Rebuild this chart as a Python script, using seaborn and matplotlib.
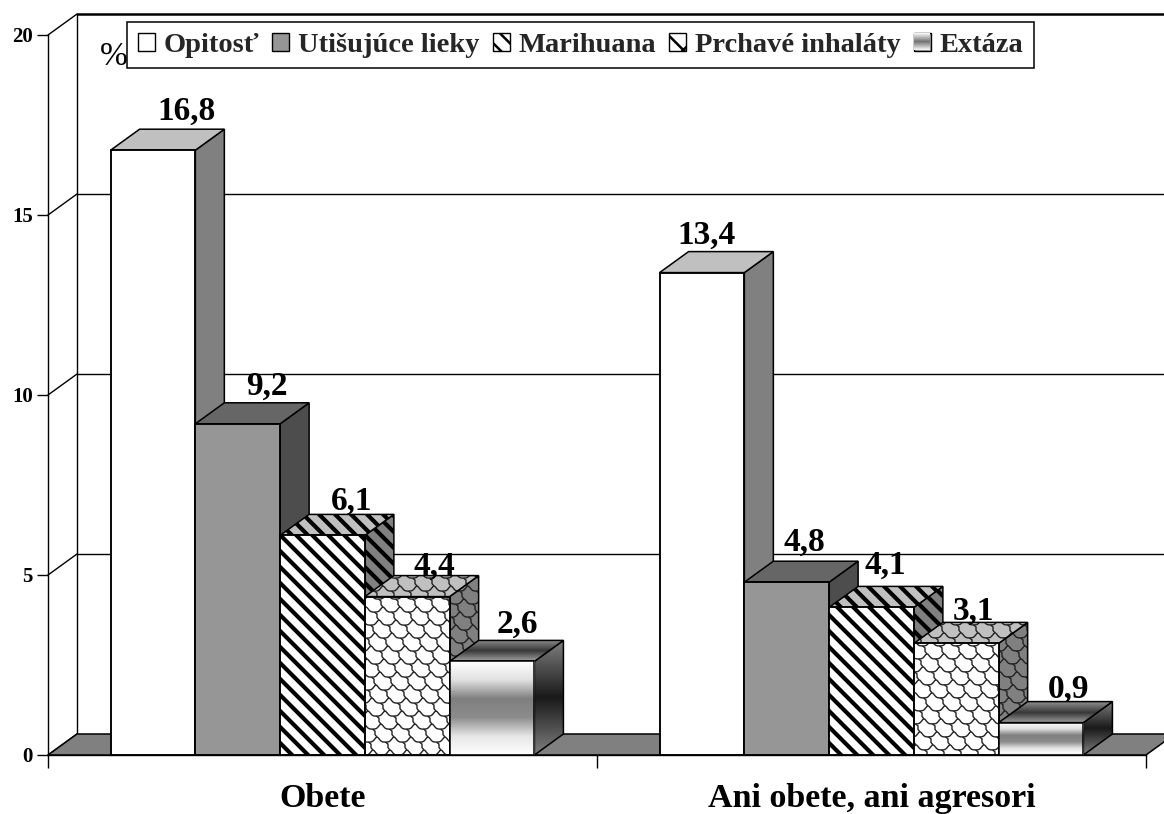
import numpy as np
import pandas as pd
import matplotlib
matplotlib.use("Agg")
import matplotlib.pyplot as plt
import seaborn as sns
from matplotlib.collections import LineCollection
from matplotlib.patches import Patch, Polygon
from matplotlib.transforms import IdentityTransform

# =========================
# DATA
# =========================
groups = ["Obete", "Ani obete, ani agresori"]
substances = ["Opitosť", "Utišujúce lieky", "Marihuana", "Prchavé inhaláty", "Extáza"]
obete = [16.8, 9.2, 6.1, 4.4, 2.6]
ani_obete = [13.4, 4.8, 4.1, 3.1, 0.9]
y_ticks = [0, 5, 10, 15, 20]

# =========================
# STYLE
# =========================
W, H = 1164, 814
DEPTH_X_PX = 29
DEPTH_Y_PX = 21
front_colors = ["#ffffff", "#969696", "#ffffff", "#ffffff", "#ffffff"]
top_colors = ["#c0c0c0", "#666666", "#c0c0c0", "#c0c0c0", "#808080"]
side_colors = ["#808080", "#4d4d4d", "#808080", "#808080", "#808080"]
kinds = ["plain", "plain", "stripes", "scales", "gradient"]
# label placement per bar, pixels
label_shift_px = [[5, 0, 0, -2, -4], [-24, -11, -15, -12, -2]]
label_lift_px = [[9, 8, 5, 1, 8], [8, 10, 13, 3, 4]]

sns.set_style("white")
plt.rcParams["font.family"] = ["Liberation Serif", "DejaVu Serif"]
plt.rcParams["hatch.linewidth"] = 1.8

df = pd.DataFrame({
    "skupina": [groups[0]] * 5 + [groups[1]] * 5,
    "latka": substances * 2,
    "hodnota": obete + ani_obete,
})

fig = plt.figure(figsize=(W / 100, H / 100), dpi=100)
ax = fig.add_axes([48 / W, (H - 755) / H, 1098 / W, 720 / H])

sns.barplot(data=df, x="skupina", y="hodnota", hue="latka", hue_order=substances,
            palette=front_colors, width=0.772, gap=0, edgecolor="black",
            linewidth=1.1, saturation=1, legend=False, ax=ax)
ax.set_xlim(-0.5, 1.5)
ax.set_ylim(0, 20)

dx = DEPTH_X_PX / 549
dy = DEPTH_Y_PX / 36


# =========================
# FACE FILLS
# =========================
def add_stripes(clip, z):
    box = clip.get_window_extent()
    c = np.arange(box.x0 + box.y0 - 20, box.x1 + box.y1 + 20, 16)
    segs = [[(k - box.y0 + 10, box.y0 - 10), (k - box.y1 - 10, box.y1 + 10)] for k in c]
    lines = LineCollection(segs, colors="black", linewidths=3.0,
                           transform=IdentityTransform(), zorder=z)
    ax.add_collection(lines, autolim=False)
    lines.set_clip_path(clip)


def add_scales(clip, z):
    # skewed wavy rows joined by curved tails, each row shifted so the cells run diagonally
    box = clip.get_window_extent()
    segs = []
    xs = np.arange(box.x0 - 40, box.x1 + 40, 1.0)
    for r, y0 in enumerate(np.arange(box.y1 + 13, box.y0 - 13, -13)):
        phase = r * 13
        th = 2 * np.pi * (xs - phase) / 17
        segs.append(np.column_stack([xs, y0 + 2.5 * np.cos(th + 0.7 * np.sin(th))]))
        for k in np.arange(-10, 80):
            tx = phase + 8.5 + 17 * k
            if box.x0 - 20 < tx < box.x1 + 20:
                segs.append([(tx, y0 - 2.5), (tx + 2.5, y0 - 4.5), (tx + 2.5, y0 - 8), (tx + 4.5, y0 - 10.5)])
    lines = LineCollection(segs, colors="#222222", linewidths=1.0,
                           transform=IdentityTransform(), zorder=z)
    ax.add_collection(lines, autolim=False)
    lines.set_clip_path(clip)


def add_gradient(clip, z, stops, verts):
    grad = np.interp(np.linspace(0, 1, 200), np.linspace(0, 1, len(stops)), stops)
    xs, ys = zip(*verts)
    img = ax.imshow(grad[:, None], cmap="gray", vmin=0, vmax=1, aspect="auto",
                    extent=[min(xs), max(xs), min(ys), max(ys)], zorder=z)
    img.set_clip_path(clip)


def dress(face, verts, kind, z, stops):
    if kind == "stripes":
        add_stripes(face, z + 0.1)
    elif kind == "scales":
        add_scales(face, z + 0.1)
    elif kind == "gradient":
        add_gradient(face, z + 0.1, stops, verts)
    ax.add_patch(Polygon(verts, closed=True, fill=False, edgecolor="black",
                         linewidth=1.1, zorder=z + 0.2, clip_on=False))


# =========================
# BACK WALL AND FLOOR
# =========================
x0, x1 = ax.get_xlim()
far = x1 + 0.1
for t in y_ticks:
    if t > 0:
        ax.plot([x0 + dx, far], [t + dy, t + dy], color="black",
                lw=1.8 if t == 20 else 1.0, clip_on=False, zorder=1)
    ax.plot([x0, x0 + dx], [t, t + dy], color="black", lw=1.0, clip_on=False, zorder=1)
ax.plot([x0 + dx, x0 + dx], [dy, 20 + dy], color="black", lw=1.0, clip_on=False, zorder=1)
ax.add_patch(Polygon([(x0, 0), (x0 + dx, dy), (x1 + dx, dy), (x1, 0)], closed=True,
                     facecolor="#808080", edgecolor="black", linewidth=1.1,
                     clip_on=False, zorder=1.5))

# =========================
# 3D BARS
# =========================
fig.canvas.draw()
z = 2.0
bars_by_hue = [list(c) for c in ax.containers]
for g in range(len(groups)):
    for i in range(len(substances)):
        bar = bars_by_hue[i][g]
        xa, xb = bar.get_x(), bar.get_x() + bar.get_width()
        h = bar.get_height()
        bar.set_zorder(z + 0.8)
        bar.set_clip_on(False)

        side = [(xb, 0), (xb + dx, dy), (xb + dx, h + dy), (xb, h)]
        top = [(xa, h), (xa + dx, h + dy), (xb + dx, h + dy), (xb, h)]
        front = [(xa, 0), (xa, h), (xb, h), (xb, 0)]

        side_face = Polygon(side, closed=True, facecolor=side_colors[i], edgecolor="none",
                            zorder=z, clip_on=False)
        top_face = Polygon(top, closed=True, facecolor=top_colors[i], edgecolor="none",
                           zorder=z + 0.4, clip_on=False)
        ax.add_patch(side_face)
        ax.add_patch(top_face)
        dress(side_face, side, kinds[i], z, [0.5, 0.1, 0.5])
        dress(top_face, top, kinds[i], z + 0.4, [0.55, 0.22, 0.62])
        dress(bar, front, kinds[i], z + 0.8, [1.0, 0.88, 0.5, 0.55, 0.9, 1.0])

        lx = (xa + xb) / 2 + dx + label_shift_px[g][i] / 549
        ax.text(lx, h + dy + label_lift_px[g][i] / 36, f"{h:.1f}".replace(".", ","),
                ha="center", va="baseline", fontsize=24, fontweight="bold",
                color="black", zorder=20, clip_on=False)
        z += 2

# =========================
# AXES
# =========================
ax.set_xlabel("")
ax.set_ylabel("")
ax.set_yticks(y_ticks)
ax.set_yticklabels([str(t) for t in y_ticks], fontsize=15, fontweight="bold")
ax.set_xticks([0, 1])
ax.set_xticklabels(groups, fontsize=24.5, fontweight="bold")
ax.set_xticks([-0.5, 0.5, 1.5], minor=True)
ax.tick_params(axis="x", which="major", length=0, pad=20, colors="black")
ax.tick_params(axis="x", which="minor", length=9, width=1.0, bottom=True, color="black")
ax.tick_params(axis="y", length=8, width=1.0, pad=3, left=True, color="black", labelcolor="black")
ax.set_xlim(-0.5, 1.5)
ax.set_ylim(0, 20)
ax.patch.set_alpha(0)
for name in ["top", "right"]:
    ax.spines[name].set_visible(False)
for name in ["left", "bottom"]:
    ax.spines[name].set_color("black")
    ax.spines[name].set_linewidth(1.0)
    ax.spines[name].set_zorder(30)

fig.text(114 / W, 1 - 57 / H, "%", fontsize=24, ha="center", va="center", color="black")

# =========================
# LEGEND
# =========================
handles = [
    Patch(facecolor="white", edgecolor="black"),
    Patch(facecolor="#969696", edgecolor="black"),
    Patch(facecolor="white", edgecolor="black", hatch="\\\\"),
    Patch(facecolor="white", edgecolor="black", hatch="x"),
    Patch(facecolor="#aaaaaa", edgecolor="black"),
]
leg = fig.legend(handles, substances, loc="upper left", ncol=5,
                 bbox_to_anchor=(127 / W, 1 - 22 / H), borderaxespad=0,
                 fancybox=False, framealpha=1, edgecolor="black",
                 prop={"weight": "bold", "size": 20.5}, handlelength=0.6, handleheight=0.6,
                 handletextpad=0.3, columnspacing=0.47, borderpad=0.37)
leg.get_frame().set_linewidth(1.1)
leg.set_zorder(40)

fig.canvas.draw()
box = leg.get_patches()[4].get_window_extent()
grad = np.interp(np.linspace(0, 1, int(box.height) - 1), [0, 0.5, 1], [0.95, 0.45, 0.95])
fig.figimage(np.repeat(grad[:, None], int(box.width) - 1, axis=1), xo=int(box.x0) + 1, yo=int(box.y0) + 1,
             cmap="gray", vmin=0, vmax=1, zorder=50, origin="upper", resize=False)

fig.savefig("out.png", dpi=100)
plt.close(fig)
